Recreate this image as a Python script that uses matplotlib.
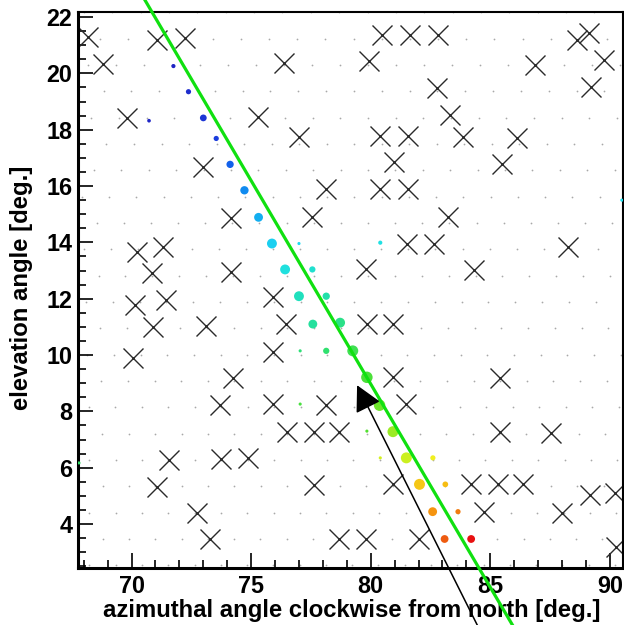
import numpy as np
import matplotlib
matplotlib.use('Agg')
import matplotlib.pyplot as plt
from matplotlib.colors import LinearSegmentedColormap
from matplotlib.ticker import MultipleLocator

plt.rcParams['font.family'] = ['Liberation Sans', 'DejaVu Sans']
plt.rcParams['font.weight'] = 'bold'

# camera pixel lattice (hexagonal)
GRID_EL0 = 3.47
GRID_EL_STEP = 0.935
GRID_AZ_STEP = 1.10
GRID_AZ_ANCHOR = 83.09
GRID_SHEAR = 0.0167

# pixels rejected (crosses)
cross_az = [68.19, 71.08, 72.24, 68.82, 76.39, 69.80, 75.28, 77.01, 73.00, 74.16,
            77.56, 70.22, 71.33, 70.87, 74.16, 70.15, 71.43, 75.91, 78.14, 80.47,
            81.65, 82.81, 88.63, 89.11, 79.91, 86.88, 89.74, 82.77, 89.23, 83.33,
            80.40, 81.54, 83.84, 86.12, 80.98, 85.51, 80.40, 81.54, 83.23, 81.51,
            82.66, 88.25, 79.81, 84.30, 70.91, 73.12, 76.46, 70.08, 75.91, 74.26,
            73.70, 75.93, 76.49, 77.61, 71.58, 73.73, 74.85, 71.08, 77.61, 72.73,
            73.28, 79.84, 80.93, 80.93, 85.39, 78.14, 81.49, 78.69, 85.39, 87.54,
            80.93, 84.21, 85.32, 86.37, 89.18, 90.20, 84.72, 88.00, 78.69, 79.81,
            82.00, 90.27]
cross_el = [21.28, 21.18, 21.24, 20.35, 20.38, 18.40, 18.46, 17.75, 16.68, 14.85,
            14.91, 13.67, 13.84, 12.90, 12.96, 11.77, 11.95, 12.07, 15.88, 21.36,
            21.36, 21.36, 21.18, 21.42, 20.44, 20.29, 20.47, 19.47, 19.52, 18.52,
            17.78, 17.78, 17.75, 17.69, 16.84, 16.78, 15.88, 15.88, 14.91, 13.96,
            13.96, 13.84, 13.04, 13.02, 11.00, 11.03, 11.10, 9.88, 10.12, 9.17,
            8.22, 8.26, 7.28, 7.28, 6.27, 6.30, 6.33, 5.32, 5.38, 4.40,
            3.46, 11.10, 11.10, 9.21, 9.17, 8.22, 8.26, 7.28, 7.28, 7.22,
            5.41, 5.41, 5.41, 5.41, 5.03, 5.09, 4.44, 4.38, 3.47, 3.47,
            3.47, 3.19]

# triggered pixels: position, signal (size), time (colour)
hit_az = [71.75, 70.73, 72.38, 73.00, 73.54, 74.12, 74.72, 75.31, 75.87, 77.00,
          80.40, 76.42, 77.56, 77.00, 78.14, 77.58, 78.72, 77.05, 78.14, 79.25,
          79.84, 77.05, 80.37, 79.84, 80.93, 80.40, 81.49, 82.60, 82.04, 83.12,
          82.59, 83.65, 83.09, 84.20, 90.50, 67.80]
hit_el = [20.26, 18.32, 19.35, 18.42, 17.69, 16.77, 15.85, 14.89, 13.96, 13.96,
          13.99, 13.04, 13.04, 12.09, 12.09, 11.10, 11.15, 10.15, 10.15, 10.15,
          9.21, 8.26, 8.22, 7.30, 7.28, 6.35, 6.35, 6.35, 5.41, 5.41,
          4.44, 4.44, 3.47, 3.47, 15.50, 6.17]
hit_signal = [4, 3.5, 5, 6.5, 5, 7, 8, 8.5, 9.5, 3,
              4, 9.5, 6, 9.5, 7, 8.5, 9.5, 3, 6, 10.5,
              11, 3, 11, 3, 10.5, 3, 10.5, 5, 10.5, 5.5,
              8.5, 5, 7.5, 7.5, 3, 3]
hit_time = [0.02, 0.03, 0.06, 0.10, 0.14, 0.22, 0.30, 0.36, 0.42, 0.44,
            0.47, 0.48, 0.50, 0.53, 0.56, 0.58, 0.61, 0.64, 0.65, 0.68,
            0.71, 0.70, 0.74, 0.72, 0.77, 0.82, 0.81, 0.85, 0.88, 0.89,
            0.92, 0.94, 0.96, 1.00, 0.45, 0.66]

# shower-detector plane fit and arrow
sdp_az = [70.25, 86.25]
sdp_el = [23.05, -0.05]
arrow_tail = (84.70, 0.00)
arrow_tip = (79.43, 8.93)

palette = LinearSegmentedColormap.from_list('root', [
    (0.00, '#2020c0'), (0.15, '#1a40e0'), (0.25, '#1070f0'), (0.35, '#10a8f0'),
    (0.45, '#20e0f0'), (0.55, '#20e0b0'), (0.65, '#30e070'), (0.72, '#50e030'),
    (0.80, '#c0f020'), (0.85, '#f0f020'), (0.90, '#f8b010'), (0.95, '#f07010'),
    (1.00, '#e81010')])

fig = plt.figure(figsize=(6.24, 6.25), dpi=100)
ax = fig.add_axes([0.125, 0.0912, 0.8734, 0.8896])

# background lattice of camera pixels
gx, gy = [], []
for i in range(-2, 22):
    el = GRID_EL0 + i * GRID_EL_STEP
    step = GRID_AZ_STEP * np.cos(np.radians(3.5)) / np.cos(np.radians(el))
    anchor = GRID_AZ_ANCHOR + GRID_SHEAR * i - (step / 2 if i % 2 else 0)
    k = np.arange(-25, 15)
    gx.extend(anchor + k * step)
    gy.extend([el] * len(k))
ax.scatter(gx, gy, s=1.6, c='#a8a8a8', linewidths=0, zorder=1)

ax.plot(cross_az, cross_el, 'x', color='#2a2a2a', markersize=14, mew=1.0, zorder=2)

sizes = (np.array(hit_signal) * 0.75) ** 2
ax.scatter(hit_az, hit_el, s=sizes, c=hit_time, cmap=palette, vmin=0, vmax=1,
           linewidths=0, zorder=3)

ax.plot(sdp_az, sdp_el, '-', color='#10e010', lw=2.3, clip_on=False, zorder=4)

ax.annotate('', xy=arrow_tip, xytext=arrow_tail, xycoords='data', annotation_clip=False,
            arrowprops=dict(arrowstyle='-|>,head_length=0.8,head_width=0.42',
                            mutation_scale=20, color='black', lw=1.1,
                            shrinkA=0, shrinkB=0), zorder=5)

ax.set_xlim(67.76, 90.55)
ax.set_ylim(2.44, 22.18)
ax.xaxis.set_major_locator(MultipleLocator(5))
ax.xaxis.set_minor_locator(MultipleLocator(1))
ax.yaxis.set_major_locator(MultipleLocator(2))
ax.yaxis.set_minor_locator(MultipleLocator(0.5))
ax.tick_params(which='both', direction='in', top=False, right=False, width=1.2)
ax.tick_params(which='major', length=11, labelsize=16.8)
ax.tick_params(which='minor', length=5.5)
ax.tick_params(axis='x', pad=5)
ax.tick_params(axis='y', pad=4)
for lbl in ax.get_xticklabels() + ax.get_yticklabels():
    lbl.set_fontweight('bold')

for side in ['left', 'bottom']:
    ax.spines[side].set_linewidth(2.2)
for side in ['top', 'right']:
    ax.spines[side].set_linewidth(1.5)

ax.set_xlabel('azimuthal angle clockwise from north [deg.]', fontsize=17.2, fontweight='bold')
ax.set_ylabel('elevation angle [deg.]', fontsize=17.2, fontweight='bold')
ax.xaxis.set_label_coords(0.503, -0.076)
ax.yaxis.set_label_coords(-0.103, 0.504)
ax.xaxis.label.set_va('center')
ax.yaxis.label.set_va('center')

fig.savefig('out.png', dpi=100)
